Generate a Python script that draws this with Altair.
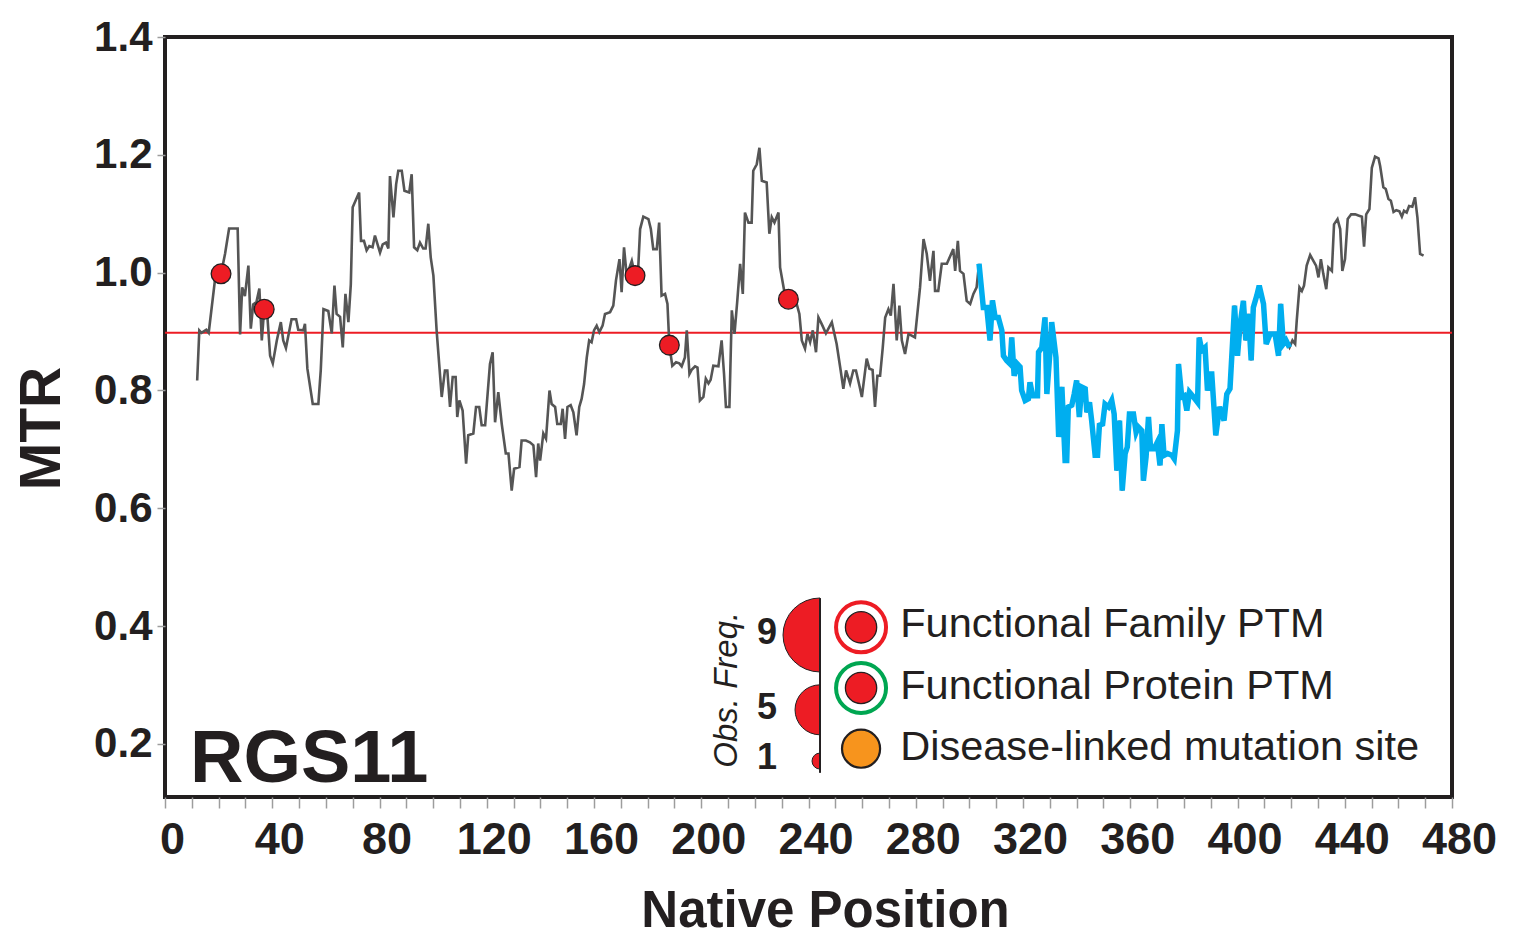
import math
import altair as alt
import pandas as pd

# Windowed MTR score along the RGS11 sequence
position = [
    12.0, 12.8, 13.6, 15.4, 16.3, 18.6, 20.9, 22.4, 23.9, 27.1, 28.0, 28.8, 29.8, 31.1, 32.0,
    32.9, 34.1, 35.2, 36.1, 37.0, 38.2, 39.2, 40.2, 41.7, 43.2, 44.1, 45.1, 47.2, 48.9, 49.7,
    51.6, 52.2, 53.1, 55.1, 57.2, 58.1, 59.1, 60.9, 62.2, 63.2, 64.0, 65.3, 66.3, 67.3, 68.4,
    69.3, 70.0, 72.4, 73.1, 74.2, 75.2, 76.2, 77.4, 78.3, 80.2, 81.2, 82.4, 83.3, 83.9, 85.2,
    86.2, 87.0, 88.3, 89.3, 91.1, 92.0, 92.9, 94.1, 95.1, 96.3, 97.2, 98.2, 99.1, 100.1, 101.3,
    103.2, 104.4, 105.3, 106.3, 107.3, 108.4, 109.0, 109.8, 111.0, 112.3, 113.1, 115.0, 116.0, 117.2, 118.1,
    119.4, 121.2, 122.2, 123.1, 124.3, 125.6, 127.1, 128.1, 129.3, 130.2, 132.2, 133.0, 134.6, 136.1, 137.4,
    138.4, 139.2, 139.9, 141.1, 142.1, 143.4, 144.2, 145.5, 146.3, 147.6, 148.3, 149.2, 150.1, 151.3, 152.3,
    153.5, 154.5, 155.4, 156.3, 157.3, 158.2, 159.1, 160.0, 161.0, 162.0, 163.2, 164.1, 166.0, 167.2, 168.2,
    169.5, 170.3, 171.2, 172.2, 174.1, 175.3, 176.5, 177.2, 178.4, 180.3, 181.2, 182.1, 183.4, 184.3, 185.2,
    186.5, 187.4, 188.1, 189.2, 190.6, 191.8, 192.7, 193.9, 194.6, 195.6, 196.4, 197.7, 198.6, 199.5, 200.8,
    201.7, 202.7, 203.5, 204.5, 206.4, 207.6, 208.5, 209.2, 210.5, 211.4, 212.4, 213.4, 214.5, 215.5, 216.3,
    217.6, 218.8, 219.4, 220.7, 221.7, 222.6, 224.4, 225.4, 226.3, 227.3, 228.8, 229.4, 230.9, 232.5, 233.7,
    235.6, 236.6, 237.5, 238.7, 239.6, 240.6, 241.6, 242.8, 243.7, 244.9, 246.5, 248.7, 250.5, 252.0, 253.0,
    254.0, 255.5, 256.7, 257.7, 259.0, 259.9, 261.7, 262.7, 263.9, 264.8, 265.7, 266.7, 267.7, 268.6, 269.8,
    270.7, 271.7, 272.9, 273.9, 274.8, 276.0, 277.3, 279.7, 281.6, 282.9, 284.1, 285.3, 286.6, 287.2, 288.4,
    289.7, 291.6, 294.0, 294.7, 295.7, 296.5, 297.8, 299.0, 300.3, 301.5, 302.7, 303.6, 305.2, 306.5, 307.7,
    308.6, 309.6, 310.8, 312.1, 312.7, 313.9, 315.2, 315.8, 316.7, 317.9, 318.9, 319.5, 320.8, 322.0, 322.6,
    323.6, 325.4, 325.8, 327.0, 328.2, 328.9, 329.9, 330.7, 332.3, 333.3, 334.5, 335.7, 336.3, 336.9, 338.2,
    339.1, 340.0, 341.0, 341.9, 343.2, 343.8, 344.8, 345.6, 346.9, 347.8, 348.5, 349.7, 350.6, 351.9, 353.1,
    354.0, 355.0, 356.0, 357.0, 358.1, 358.9, 359.7, 361.2, 362.2, 363.0, 364.3, 364.9, 365.9, 366.8, 367.6,
    368.9, 370.1, 371.1, 371.8, 372.6, 373.9, 375.5, 376.4, 377.6, 378.0, 379.2, 380.1, 381.1, 382.1, 383.6,
    385.1, 385.7, 386.7, 387.9, 388.8, 389.8, 390.4, 391.9, 393.3, 395.0, 396.0, 397.2, 398.2, 398.9, 400.0,
    401.0, 402.2, 403.1, 404.1, 405.1, 405.9, 407.2, 408.1, 409.7, 410.7, 412.2, 414.0, 415.3, 416.1, 417.1,
    418.1, 419.4, 420.5, 421.5, 422.1, 423.1, 424.0, 424.8, 425.8, 427.1, 428.3, 429.3, 430.2, 431.1, 432.0,
    433.1, 433.9, 435.2, 436.0, 437.3, 438.3, 439.1, 440.1, 441.1, 442.4, 443.9, 445.1, 446.4, 447.2, 448.0,
    449.2, 450.1, 451.3, 452.6, 453.2, 454.4, 455.3, 456.3, 457.2, 458.2, 459.2, 460.4, 461.3, 462.1, 463.1,
    464.0, 465.2, 466.2, 467.1, 468.1, 469.4,
]
mtr = [
    0.817, 0.902, 0.898, 0.903, 0.898, 0.986, 0.998, 1.032, 1.075, 1.075, 0.895, 0.975, 0.960, 1.012, 0.905,
    0.946, 0.950, 0.973, 0.885, 0.938, 0.925, 0.859, 0.846, 0.885, 0.916, 0.885, 0.872, 0.921, 0.921, 0.903,
    0.902, 0.913, 0.837, 0.777, 0.777, 0.835, 0.938, 0.935, 0.897, 0.978, 0.930, 0.925, 0.873, 0.964, 0.916,
    0.980, 1.111, 1.136, 1.054, 1.054, 1.038, 1.045, 1.043, 1.063, 1.034, 1.048, 1.051, 1.041, 1.164, 1.094,
    1.150, 1.173, 1.173, 1.139, 1.136, 1.167, 1.043, 1.038, 1.051, 1.041, 1.041, 1.083, 1.026, 0.995, 0.902,
    0.789, 0.834, 0.834, 0.772, 0.823, 0.823, 0.755, 0.783, 0.766, 0.676, 0.724, 0.727, 0.772, 0.772, 0.741,
    0.741, 0.845, 0.865, 0.746, 0.797, 0.743, 0.693, 0.693, 0.630, 0.667, 0.670, 0.715, 0.715, 0.712, 0.707,
    0.653, 0.710, 0.681, 0.727, 0.718, 0.800, 0.777, 0.772, 0.743, 0.743, 0.769, 0.718, 0.772, 0.775, 0.763,
    0.724, 0.772, 0.786, 0.811, 0.856, 0.885, 0.882, 0.902, 0.910, 0.899, 0.910, 0.930, 0.933, 0.944, 0.987,
    1.023, 0.967, 1.043, 0.995, 1.020, 0.995, 1.009, 1.074, 1.095, 1.091, 1.074, 1.040, 1.040, 1.085, 0.961,
    0.964, 0.947, 0.877, 0.842, 0.848, 0.846, 0.841, 0.856, 0.902, 0.828, 0.835, 0.841, 0.839, 0.783, 0.789,
    0.820, 0.812, 0.818, 0.842, 0.841, 0.885, 0.828, 0.772, 0.772, 0.936, 0.896, 0.950, 1.015, 0.964, 1.102,
    1.085, 1.085, 1.173, 1.184, 1.212, 1.156, 1.153, 1.066, 1.094, 1.085, 1.102, 1.009, 0.970, 0.955, 0.964,
    0.947, 0.930, 0.885, 0.871, 0.896, 0.882, 0.902, 0.865, 0.924, 0.913, 0.897, 0.916, 0.879, 0.834, 0.803,
    0.834, 0.812, 0.834, 0.834, 0.808, 0.789, 0.854, 0.837, 0.835, 0.772, 0.825, 0.825, 0.873, 0.924, 0.938,
    0.927, 0.981, 0.885, 0.944, 0.885, 0.862, 0.896, 0.890, 0.975, 1.057, 1.032, 0.986, 1.037, 0.969, 0.969,
    1.015, 1.015, 1.040, 1.003, 1.054, 1.003, 0.998, 0.952, 0.947, 0.964, 0.975, 1.015, 0.941, 0.941, 0.885,
    0.953, 0.924, 0.924, 0.902, 0.859, 0.851, 0.845, 0.890, 0.825, 0.845, 0.840, 0.800, 0.783, 0.786, 0.814,
    0.791, 0.791, 0.865, 0.873, 0.924, 0.794, 0.856, 0.916, 0.856, 0.721, 0.806, 0.681, 0.681, 0.772, 0.775,
    0.794, 0.817, 0.755, 0.806, 0.803, 0.763, 0.780, 0.749, 0.690, 0.690, 0.741, 0.743, 0.777, 0.772, 0.783,
    0.760, 0.664, 0.749, 0.630, 0.693, 0.704, 0.760, 0.760, 0.729, 0.738, 0.732, 0.647, 0.687, 0.755, 0.701,
    0.701, 0.712, 0.673, 0.743, 0.690, 0.693, 0.690, 0.684, 0.732, 0.845, 0.789, 0.791, 0.766, 0.797, 0.789,
    0.780, 0.890, 0.868, 0.873, 0.800, 0.828, 0.828, 0.724, 0.772, 0.749, 0.794, 0.803, 0.885, 0.944, 0.859,
    0.913, 0.952, 0.885, 0.930, 0.851, 0.941, 0.961, 0.978, 0.947, 0.879, 0.896, 0.896, 0.859, 0.947, 0.879,
    0.885, 0.873, 0.885, 0.879, 0.919, 0.975, 0.969, 0.978, 1.012, 1.030, 1.020, 1.012, 0.992, 1.023, 0.998,
    0.972, 1.009, 1.003, 1.082, 1.091, 1.074, 1.003, 1.023, 1.091, 1.099, 1.099, 1.097, 1.095, 1.044, 1.099,
    1.108, 1.178, 1.197, 1.194, 1.181, 1.145, 1.142, 1.125, 1.122, 1.103, 1.106, 1.104, 1.095, 1.105, 1.102,
    1.113, 1.112, 1.128, 1.094, 1.032, 1.029,
]

# Highlighted low-MTR stretch
cluster_start, cluster_end = 303.6, 419.4

# Functional PTM sites on the curve
ptm_pos = [20.9, 37.0, 175.3, 188.1, 232.5]
ptm_mtr = [0.998, 0.938, 0.995, 0.877, 0.955]

# Protein-wide MTR reference
threshold = 0.898

# Inset key: observed-frequency half discs
freq_labels = ["9", "5", "1"]
freq_center_y = [0.385, 0.258, 0.171]
freq_radius = [37, 25, 8]
freq_label_y = [0.388, 0.261, 0.176]
freq_axis_pos = 244.3
freq_axis_top, freq_axis_bottom = 0.4475, 0.151
freq_label_pos = 224.5
freq_title = "Obs. Freq."
freq_title_pos, freq_title_y = 209.6, 0.292

# Inset key: marker types
key_labels = ["Functional Family PTM", "Functional Protein PTM", "Disease-linked mutation site"]
key_marker_y = [0.398, 0.295, 0.192]
key_label_y = [0.402, 0.296, 0.194]
key_ring_colors = ["#ED1C24", "#00A651"]
key_marker_pos = 259.6
key_label_pos = 274.2

protein_name = "RGS11"
name_pos, name_y = 9.3, 0.136

INK = "#231F20"
FONT = "Liberation Sans"

x_scale = alt.Scale(domain=[0, 480], nice=False, zero=False)
y_scale = alt.Scale(domain=[0.11, 1.4], nice=False, zero=False)

x_axis = alt.Axis(
    values=list(range(0, 481, 10)),
    labelExpr="datum.value % 40 === 0 ? datum.label : ''",
    labelFont=FONT, labelFontSize=45, labelFontWeight="bold", labelColor=INK,
    labelPadding=9, labelOffset=7, labelFlush=False, labelOverlap=False,
    tickColor="#9d9d9d", tickSize=11, tickWidth=1.5,
    domain=False, grid=False,
    title="Native Position", titleFont=FONT, titleFontSize=51, titleFontWeight="bold",
    titleColor=INK, titlePadding=24, titleX=660,
)
y_axis = alt.Axis(
    values=[0.2, 0.4, 0.6, 0.8, 1.0, 1.2, 1.4], format=".1f",
    labelFont=FONT, labelFontSize=42, labelFontWeight="bold", labelColor=INK,
    labelPadding=5, labelFlush=False, labelOverlap=False,
    tickColor="#9d9d9d", tickSize=8, tickWidth=1.5,
    domain=False, grid=False,
    title="MTR", titleFont=FONT, titleFontSize=57, titleFontWeight="bold",
    titleColor=INK, titlePadding=22, titleY=391,
)

X = alt.X("pos:Q", scale=x_scale, axis=x_axis)
Y = alt.Y("val:Q", scale=y_scale, axis=y_axis)

series = pd.DataFrame({"pos": position, "val": mtr})

ref_line = alt.Chart(pd.DataFrame({"val": [threshold]})).mark_rule(
    color="#ED1C24", strokeWidth=2
).encode(y=Y)

gray_line = alt.Chart(series).mark_line(
    color="#555555", strokeWidth=2.6, strokeJoin="miter"
).encode(x=X, y=Y, order="pos:Q")

blue_line = alt.Chart(series).transform_filter(
    (alt.datum.pos >= cluster_start) & (alt.datum.pos <= cluster_end)
).mark_line(color="#00AEEF", strokeWidth=5.5, strokeJoin="miter").encode(x=X, y=Y, order="pos:Q")

ptm_points = alt.Chart(pd.DataFrame({"pos": ptm_pos, "val": ptm_mtr})).mark_point(
    shape="circle", filled=True, size=390, fill="#ED1C24", stroke=INK, strokeWidth=1.3, opacity=1
).encode(x=X, y=Y)

freq_df = pd.DataFrame({
    "pos": [freq_axis_pos] * 3, "val": freq_center_y, "r": freq_radius,
})
half_discs = alt.Chart(freq_df).mark_arc(
    theta=math.pi, theta2=2 * math.pi, fill="#ED1C24", stroke=INK, strokeWidth=1
).encode(x=X, y=Y, radius=alt.Radius("r:Q", scale=None, stack=False))

freq_axis = alt.Chart(pd.DataFrame({
    "pos": [freq_axis_pos], "val": [freq_axis_top], "val2": [freq_axis_bottom]
})).mark_rule(color=INK, strokeWidth=2).encode(x=X, y=Y, y2="val2:Q")

freq_text = alt.Chart(pd.DataFrame({
    "pos": [freq_label_pos] * 3, "val": freq_label_y, "t": freq_labels
})).mark_text(
    font=FONT, fontSize=36, fontWeight="bold", color=INK, align="center", baseline="middle"
).encode(x=X, y=Y, text="t:N")

freq_title_text = alt.Chart(pd.DataFrame({
    "pos": [freq_title_pos], "val": [freq_title_y], "t": [freq_title]
})).mark_text(
    font=FONT, fontSize=33, fontStyle="italic", color=INK, angle=270,
    align="center", baseline="middle"
).encode(x=X, y=Y, text="t:N")

ring_df = pd.DataFrame({
    "pos": [key_marker_pos] * 2, "val": key_marker_y[:2], "c": key_ring_colors
})
rings = alt.Chart(ring_df).mark_point(
    shape="circle", filled=False, size=2500, strokeWidth=4, opacity=1
).encode(x=X, y=Y, stroke=alt.Stroke("c:N", scale=None))

ring_centers = alt.Chart(ring_df).mark_point(
    shape="circle", filled=True, size=980, fill="#ED1C24", stroke=INK, strokeWidth=1.3, opacity=1
).encode(x=X, y=Y)

mutation_marker = alt.Chart(pd.DataFrame({
    "pos": [key_marker_pos], "val": [key_marker_y[2]]
})).mark_point(
    shape="circle", filled=True, size=1450, fill="#F7941D", stroke=INK, strokeWidth=2.2, opacity=1
).encode(x=X, y=Y)

key_text = alt.Chart(pd.DataFrame({
    "pos": [key_label_pos] * 3, "val": key_label_y, "t": key_labels
})).mark_text(
    font=FONT, fontSize=41.5, color=INK, align="left", baseline="middle"
).encode(x=X, y=Y, text="t:N")

name_text = alt.Chart(pd.DataFrame({
    "pos": [name_pos], "val": [name_y], "t": [protein_name]
})).mark_text(
    font=FONT, fontSize=74, fontWeight="bold", color=INK, align="left", baseline="alphabetic"
).encode(x=X, y=Y, text="t:N")

chart = alt.layer(
    ref_line, gray_line, blue_line, ptm_points,
    half_discs, freq_axis, freq_text, freq_title_text,
    rings, ring_centers, mutation_marker, key_text, name_text,
).properties(
    width=1287, height=760,
    autosize=alt.AutoSizeParams(type="none"),
    padding={"left": 165, "top": 37, "right": 61, "bottom": 139},
    background="white",
).configure_view(stroke=INK, strokeWidth=4)

chart.save("out.html", embed_options={"renderer": "svg", "actions": False})
